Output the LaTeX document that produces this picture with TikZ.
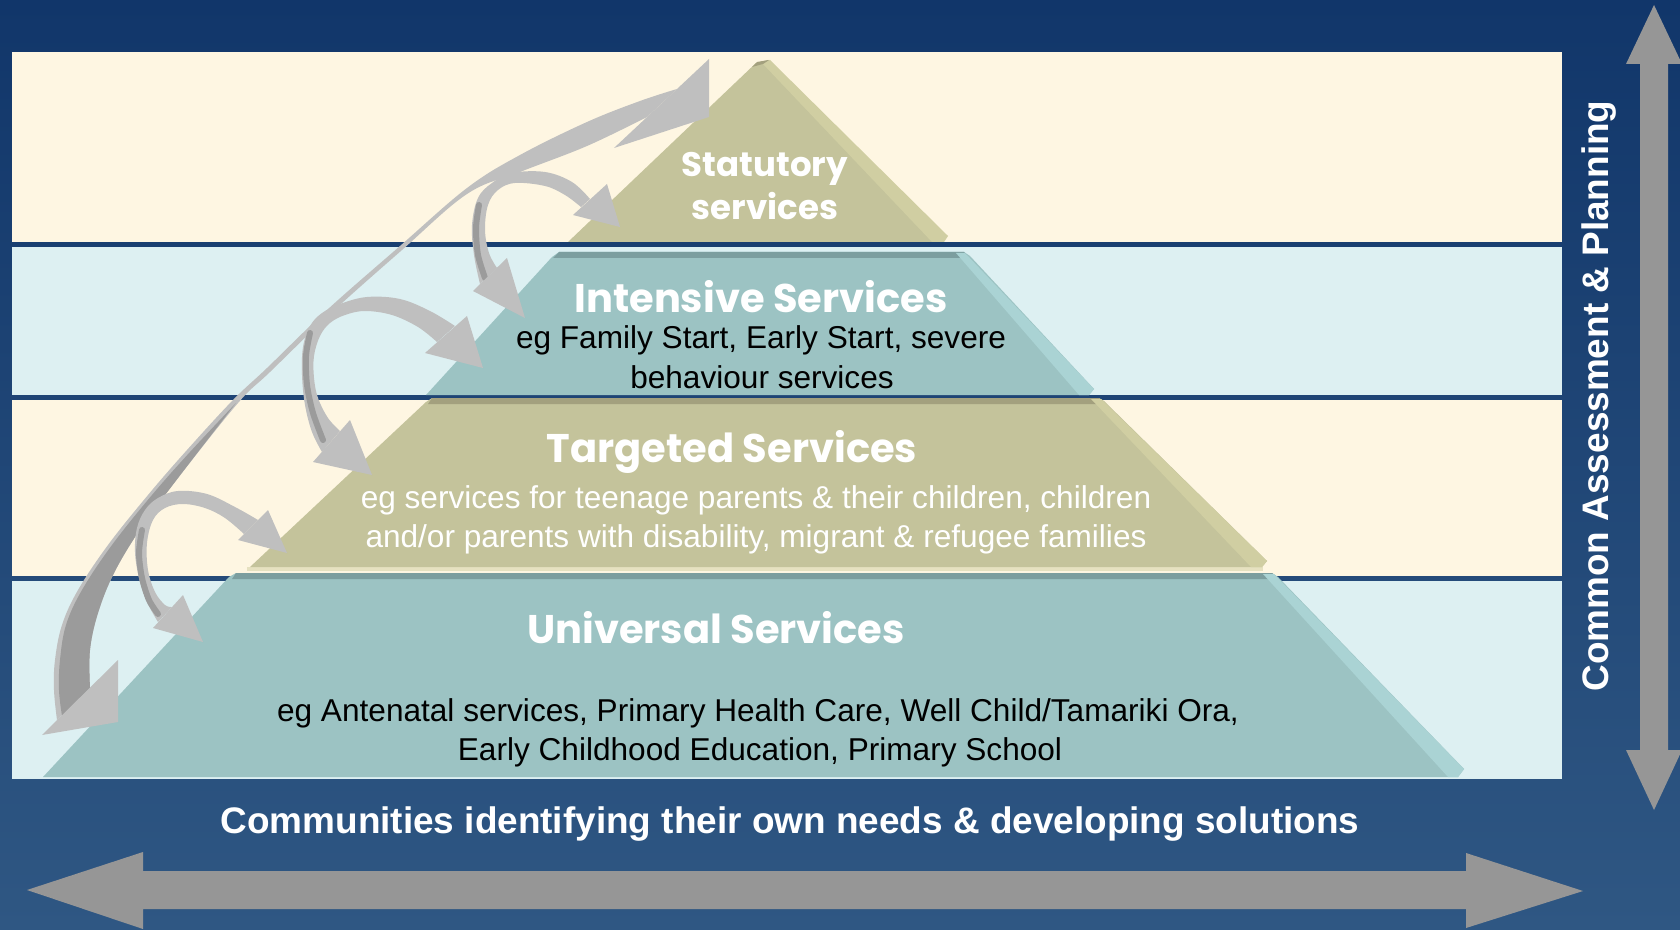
\documentclass[tikz,border=0pt]{standalone}
\usepackage{fontspec}
\setmainfont{Liberation Sans}
\newfontfamily\gothic{Poppins}
\newfontfamily\arialf{Liberation Sans}
\definecolor{bgtop}{HTML}{11366A}
\definecolor{bgbot}{HTML}{2F5783}
\definecolor{cream}{HTML}{FEF6E2}
\definecolor{iceblue}{HTML}{DDF0F2}
\definecolor{khakiface}{HTML}{C4C39B}
\definecolor{khakilite}{HTML}{D0CEA2}
\definecolor{khakidark}{HTML}{A3A07E}
\definecolor{khakibot}{HTML}{E6E1C0}
\definecolor{tealface}{HTML}{9CC3C3}
\definecolor{teallite}{HTML}{AAD3D4}
\definecolor{tealdark}{HTML}{7C9E9F}
\definecolor{arrowlight}{HTML}{BFBFBF}
\definecolor{arrowdark}{HTML}{9B9B9B}
\definecolor{bigarrow}{HTML}{969696}
\tikzset{
  bodytext/.style={font=\arialf\fontsize{23.7}{29}\selectfont, inner sep=0pt, anchor=base},
  tiertitle/.style={font=\gothic\bfseries\fontsize{30}{36}\selectfont, text=white, inner sep=0pt, anchor=base},
  stattitle/.style={font=\gothic\bfseries\fontsize{25.5}{30}\selectfont, text=white, inner sep=0pt, anchor=base},
  bigtitle/.style={font=\arialf\bfseries\fontsize{27.7}{33}\selectfont, text=white, inner sep=0pt, anchor=base},
  lightarrow/.style={fill=arrowlight},
  darkstrip/.style={draw=arrowdark, line width=4.5pt, line cap=round},
}
\begin{document}
\begin{tikzpicture}[x=0.75pt,y=-0.75pt]
\useasboundingbox (0,0) rectangle (1680,930);
% background
\shade[top color=bgtop, bottom color=bgbot] (0,0) rectangle (1680,930);
% bands
\fill[cream] (12,52) rectangle (1562,242);
\fill[iceblue] (12,247) rectangle (1562,395);
\fill[cream] (12,400) rectangle (1562,576);
\fill[iceblue] (12,581) rectangle (1562,779);

% ---- pyramid ----
% universal
\fill[tealface] (43,777) -- (229,577) -- (236,573) -- (1272,573) -- (1278,577) -- (1464,769) -- (1458,777) -- cycle;
\fill[tealdark] (232,579) -- (236,573) -- (1272,573) -- (1278,579) -- cycle;
\fill[teallite] (1263,574) -- (1274,574) -- (1464,769) -- (1458,777) -- (1448,777) -- cycle;
% targeted
\fill[khakibot] (247,567) rectangle (1263,571);
\fill[khakiface] (250,567) -- (426,402) -- (432,398) -- (1099,398) -- (1104,401) -- (1267,561) -- (1262,567) -- cycle;
\fill[khakidark] (428,404) -- (432,398) -- (1099,398) -- (1104,404) -- cycle;
\fill[khakilite] (1091,399) -- (1101,399) -- (1267,561) -- (1262,567) -- (1251,567) -- cycle;
% intensive
\fill[tealface] (426,395) -- (552,257) -- (559,252) -- (964,252) -- (970,256) -- (1094,389) -- (1089,395) -- cycle;
\fill[tealdark] (553,258) -- (559,252) -- (964,252) -- (969,258) -- cycle;
\fill[teallite] (956,253) -- (965,253) -- (1094,389) -- (1089,395) -- (1079,395) -- cycle;
% statutory
\fill[khakiface] (568,242) -- (756,63) -- (768,60) -- (947,236) -- (943,242) -- cycle;
\fill[khakilite] (762,63) -- (770,60) -- (948,236) -- (944,242) -- (932,242) -- cycle;
\fill[khakidark] (752,67) -- (757,62) -- (769,60) -- (763,64) -- cycle;

% ---- curved arrows ----
% big arrow A
\fill[lightarrow] plot[smooth, tension=0.6] coordinates {(57,720) (54,690) (55,660) (62,625) (78,590) (108,545) (148,495) (187,450) (233,400) (267,368) (327,310) (400,246) (467,188) (520,155) (587,122) (640,101) (677,89)}
  -- plot[smooth, tension=0.6] coordinates {(647,117) (587,146) (520,172) (467,194) (402,250) (330,314) (270,372) (238,403) (178,478) (141,528) (114,573) (98,613) (90,650) (90,688)} -- cycle;
\fill[arrowdark] plot[smooth, tension=0.6] coordinates {(236,403) (178,478) (141,528) (114,573) (98,613) (90,650) (90,688)}
  -- plot[smooth, tension=0.6] coordinates {(62,716) (59,690) (60,660) (66,625) (82,590) (112,545) (152,495) (190,452) (236,403)} -- cycle;
\fill[lightarrow] (709,59) -- (709,117) -- (614,148) -- cycle;
\fill[lightarrow] (42,735) -- (118,660) -- (118,722) -- cycle;

% pair 1 (statutory / intensive)
\fill[lightarrow] plot[smooth, tension=0.6] coordinates {(480,284) (474,255) (472,225) (478,198) (492,183) (512,173) (545,172) (572,182) (590,199)}
  -- plot[smooth, tension=0.6] coordinates {(581,207) (565,195) (545,186) (515,183) (498,190) (488,205) (485,230) (489,253) (497,268)} -- cycle;
\draw[darkstrip] plot[smooth] coordinates {(479,205) (476,228) (478,255) (485,278)};
\fill[lightarrow] (573,215) -- (607,184) -- (620,227) -- cycle;
\fill[lightarrow] (473,291) -- (507,258) -- (525,318) -- cycle;

% pair 2 (intensive / targeted)
\fill[lightarrow] plot[smooth, tension=0.6] coordinates {(322,452) (312,432) (305,405) (302,375) (303,347) (310,326) (322,313) (340,304) (367,297) (400,299) (430,311) (455,326)}
  -- plot[smooth, tension=0.6] coordinates {(437,342) (418,327) (392,315) (365,311) (345,315) (330,323) (320,336) (314,356) (314,378) (318,398) (328,418) (340,431)} -- cycle;
\draw[darkstrip] plot[smooth] coordinates {(310,333) (306,356) (307,385) (313,413) (323,440)};
\fill[lightarrow] (425,353) -- (467,316) -- (483,368) -- cycle;
\fill[lightarrow] (313,462) -- (350,420) -- (372,475) -- cycle;

% pair 3 (targeted / universal)
\fill[lightarrow] plot[smooth, tension=0.6] coordinates {(158,622) (147,602) (139,578) (135,552) (137,528) (145,510) (158,498) (178,491) (207,494) (235,507) (258,520)}
  -- plot[smooth, tension=0.6] coordinates {(244,534) (225,518) (205,508) (183,504) (165,508) (153,520) (147,543) (148,570) (155,592) (165,605) (172,607)} -- cycle;
\draw[darkstrip] plot[smooth] coordinates {(142,530) (139,553) (142,578) (149,600) (158,614)};
\fill[lightarrow] (238,540) -- (268,510) -- (287,553) -- cycle;
\fill[lightarrow] (153,628) -- (183,595) -- (203,642) -- cycle;

% ---- big straight arrows ----
\fill[bigarrow] (27,890) -- (143,852) -- (143,871) -- (1466,871) -- (1466,853) -- (1583,891) -- (1466,928) -- (1466,909) -- (143,909) -- (143,929) -- cycle;
\fill[bigarrow] (1654,5) -- (1682,64) -- (1668,64) -- (1668,750) -- (1682,750) -- (1654,810) -- (1626,750) -- (1640,750) -- (1640,64) -- (1626,64) -- cycle;

% ---- texts ----
\node[stattitle] (stat1) at (765,177) {Statutory};
\node[stattitle] (stat2) at (765,220) {services};
\node[tiertitle] (inttitle) at (761,313) {Intensive Services};
\node[bodytext] (int1) at (761,349) {eg Family Start, Early Start, severe};
\node[bodytext] (int2) at (762,388) {behaviour services};
\node[tiertitle] (tartitle) at (732,462) {Targeted Services};
\node[bodytext, text=white] (tar1) at (756,508) {eg services for teenage parents \& their children, children};
\node[bodytext, text=white] (tar2) at (756,547) {and/or parents with disability, migrant \& refugee families};
\node[tiertitle] (unititle) at (716,643) {Universal Services};
\node[bodytext] (uni1) at (758,721) {eg Antenatal services, Primary Health Care, Well Child/Tamariki Ora,};
\node[bodytext] (uni2) at (760,760) {Early Childhood Education, Primary School};
\node[bigtitle] (community) at (790,833) {Communities identifying their own needs \& developing solutions};
\node[bigtitle, rotate=90] (assess) at (1608,396) {Common Assessment \& Planning};
\end{tikzpicture}
\end{document}
